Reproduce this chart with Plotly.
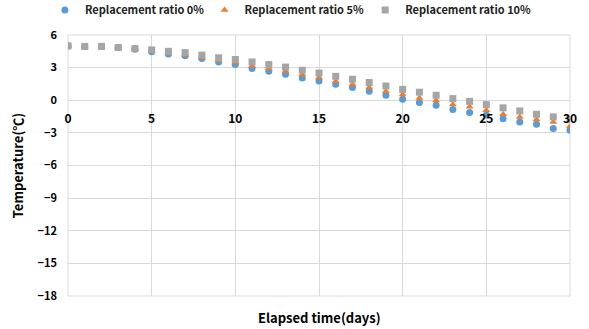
import plotly.graph_objects as go

# Elapsed time (days) and measured temperature (°C) for each replacement ratio
days = list(range(0, 31))
ratio_0 = [5.0, 4.95, 4.95, 4.85, 4.7, 4.45, 4.25, 4.1, 3.83, 3.52, 3.28,
           2.91, 2.67, 2.39, 2.05, 1.78, 1.47, 1.17, 0.83, 0.46, 0.09,
           -0.2, -0.45, -0.86, -1.13, -1.35, -1.69, -2.0, -2.2, -2.6, -2.76]
ratio_5 = [5.0, 4.95, 4.95, 4.85, 4.72, 4.5, 4.3, 4.15, 3.9, 3.68, 3.46,
           3.15, 2.91, 2.7, 2.36, 2.09, 1.75, 1.47, 1.17, 0.83, 0.52,
           0.21, -0.03, -0.4, -0.6, -0.92, -1.29, -1.53, -1.78, -2.0, -2.4]
ratio_10 = [5.0, 4.95, 4.95, 4.85, 4.75, 4.63, 4.5, 4.38, 4.15, 3.9, 3.75,
            3.52, 3.28, 3.05, 2.76, 2.5, 2.2, 1.93, 1.63, 1.31, 1.0,
            0.74, 0.46, 0.15, -0.1, -0.4, -0.7, -0.98, -1.29, -1.53, -1.75]

series_names = ["Replacement ratio 0%", "Replacement ratio 5%", "Replacement ratio 10%"]
x_ticks = [0, 5, 10, 15, 20, 25, 30]
y_ticks = [6, 3, 0, -3, -6, -9, -12, -15, -18]

FONT = "Noto Sans CJK KR"
GRID = "#D9D9D9"

fig = go.Figure()
fig.add_trace(go.Scatter(x=days, y=ratio_0, mode="markers", name=series_names[0],
                         legend="legend",
                         marker=dict(symbol="circle", size=7, color="#5B9BD5")))
fig.add_trace(go.Scatter(x=days, y=ratio_5, mode="markers", name=series_names[1],
                         legend="legend2",
                         marker=dict(symbol="triangle-up", size=7, color="#ED7D31")))
fig.add_trace(go.Scatter(x=days, y=ratio_10, mode="markers", name=series_names[2],
                         legend="legend3",
                         marker=dict(symbol="square", size=7, color="#A5A5A5")))

y_min, y_max = -18, 6


def legend_box(x):
    # one single-entry legend per series, laid out in a row above the plot
    return dict(orientation="h", x=x, xanchor="left", y=1.096, yanchor="middle",
                font=dict(family=FONT, size=11, color="#222222", weight="bold"),
                itemwidth=30, bgcolor="rgba(0,0,0,0)")


fig.update_layout(
    width=589, height=329,
    margin=dict(l=68, r=19, t=35, b=33, autoexpand=False),
    paper_bgcolor="white", plot_bgcolor="white",
    font=dict(family=FONT, color="#000000"),
    showlegend=True,
    legend=legend_box(-0.046),
    legend2=legend_box(0.272),
    legend3=legend_box(0.592),
    xaxis=dict(range=[0, 30], tickvals=x_ticks, showgrid=True, gridcolor=GRID, gridwidth=1,
               zeroline=False, showline=False, ticks="",
               anchor="free", position=(0 - y_min) / (y_max - y_min),
               ticklabelstandoff=10,
               tickfont=dict(family=FONT, size=12, color="#000000", weight="bold")),
    yaxis=dict(range=[y_min, y_max], tickvals=y_ticks, showgrid=True, gridcolor=GRID,
               gridwidth=1, zeroline=False, showline=False, ticks="",
               ticklabelstandoff=10,
               tickfont=dict(family=FONT, size=11, color="#000000", weight="bold"),
               title=dict(text="Temperature(℃)", standoff=10,
                          font=dict(family=FONT, size=13, color="#000000", weight="bold"))),
    shapes=[dict(type="rect", xref="paper", yref="paper", x0=0, x1=1, y0=0, y1=1,
                 line=dict(color=GRID, width=1), layer="below")],
    annotations=[dict(text="Elapsed time(days)", xref="paper", yref="paper",
                      x=0.5, y=-0.04, xanchor="center", yanchor="top", showarrow=False,
                      font=dict(family=FONT, size=13, color="#000000", weight="bold"))],
)

fig.write_html("out.html")
